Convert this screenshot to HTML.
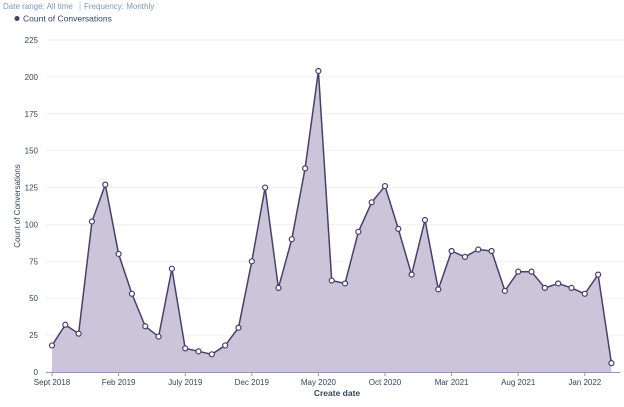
<!DOCTYPE html>
<html><head><meta charset="utf-8"><style>
body{margin:0;width:624px;height:402px;background:#fff;overflow:hidden;font-family:"Liberation Sans",sans-serif}
</style></head><body>
<svg id="c" width="624" height="402" xmlns="http://www.w3.org/2000/svg" font-family="Liberation Sans, sans-serif">
<text x="3" y="9" font-size="8" fill="#7c98b6">Date range: All time</text>
<line x1="80" y1="1" x2="80" y2="11" stroke="#cbd6e2"/>
<text x="84" y="9" font-size="8" fill="#7c98b6">Frequency: Monthly</text>
<circle cx="17" cy="18.5" r="2.5" fill="#4a3f6b"/>
<text x="23" y="21.5" font-size="8.5" fill="#33475b">Count of Conversations</text>
<text x="20" y="206" font-size="8" fill="#33475b" transform="rotate(-90 20 206)" text-anchor="middle">Count of Conversations</text>
<text x="337" y="396" font-size="8.5" font-weight="bold" fill="#33475b" text-anchor="middle">Create date</text>
<g id="g"></g>
</svg>
<script>
var d=[18,32,26,102,127,80,53,31,24,70,16,14,12,18,30,75,125,57,90,138,204,62,60,95,115,126,97,66,103,56,82,78,83,82,55,68,68,57,60,57,53,66,6];
var x0=52,dx=13.32,y0=372,sy=(372-40)/225;
var s='';
for(var v=0;v<=225;v+=25){var y=y0-v*sy;s+='<line x1="46" x2="624" y1="'+y+'" y2="'+y+'" stroke="#eef1f5" stroke-width="1"/>';s+='<text x="38" y="'+(y+3)+'" font-size="8" fill="#33475b" text-anchor="end">'+v+'</text>';}
var pts=d.map(function(v,i){return [x0+i*dx,y0-v*sy]});
var p=pts.map(function(q){return q[0].toFixed(1)+','+q[1].toFixed(1)}).join(' ');
s+='<polygon points="'+x0+','+y0+' '+p+' '+pts[pts.length-1][0]+','+y0+'" fill="#cbc5da"/>';
s+='<line x1="46" x2="620" y1="372.5" y2="372.5" stroke="#9b93b8"/>';
var lb=['Sept 2018','Feb 2019','July 2019','Dec 2019','May 2020','Oct 2020','Mar 2021','Aug 2021','Jan 2022'];
lb.forEach(function(t,k){var x=x0+k*5*dx;s+='<line x1="'+x+'" x2="'+x+'" y1="372" y2="376" stroke="#9b93b8"/><text x="'+x+'" y="385" font-size="8" fill="#33475b" text-anchor="middle">'+t+'</text>';});
s+='<polyline points="'+p+'" fill="none" stroke="#4a3f6b" stroke-width="1.5"/>';
pts.forEach(function(q){s+='<circle cx="'+q[0]+'" cy="'+q[1]+'" r="2.5" fill="#fff" stroke="#4a3f6b" stroke-width="1.2"/>';});
document.getElementById('g').innerHTML=s;
</script>
</body></html>
